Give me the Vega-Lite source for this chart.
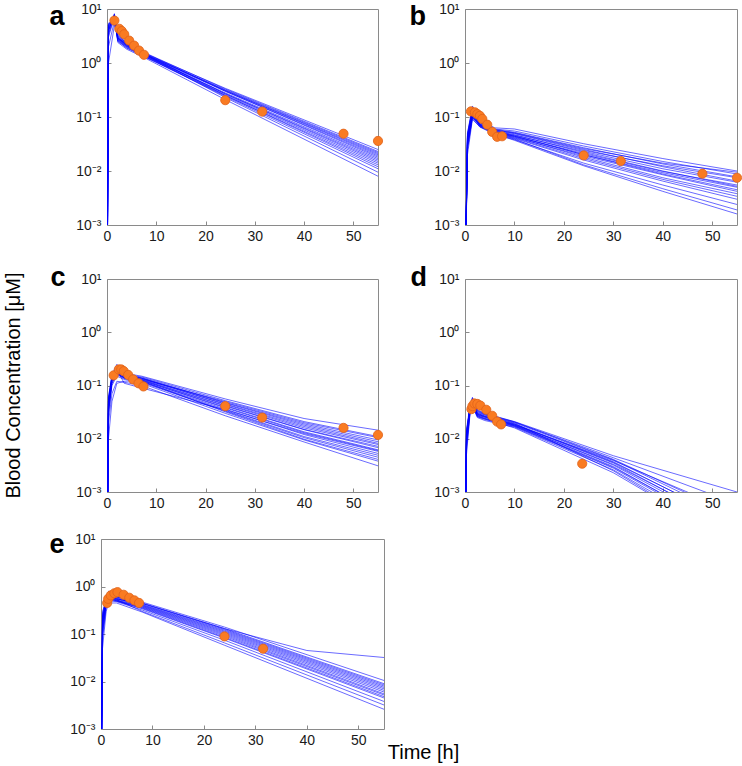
{
"$schema":"https://vega.github.io/schema/vega-lite/v6.json",
"padding":{"left":3,"top":1,"right":0,"bottom":0},
"config":{
 "view":{"stroke":"#8a8a8a","strokeWidth":1},
 "axis":{"labelFont":"Liberation Sans","labelFontSize":14,"labelColor":"#1a1a1a","grid":false,"domain":false,"ticks":true,"tickColor":"#8a8a8a","tickSize":-4,"tickWidth":1},
 "axisY":{"titleFont":"Liberation Sans","titleFontSize":27,"titleFontWeight":"bold","titleColor":"#000000","titleAngle":0,"titleAlign":"left","titleBaseline":"alphabetic","titleY":15,"labelPadding":10},
 "axisX":{"titleFont":"Liberation Sans","titleFontSize":20,"titleFontWeight":"normal","titleColor":"#000000","labelPadding":8,"labelAngle":0,"labelFlush":false}
},
"datasets":{
"sim":[
{"p":"a","s":1,"t":0.05,"c":0.0001},{"p":"a","s":1,"t":0.3,"c":4},{"p":"a","s":1,"t":1.5,"c":8},{"p":"a","s":1,"t":2.2,"c":3.2},{"p":"a","s":1,"t":4,"c":2.3},{"p":"a","s":1,"t":8,"c":1.45},{"p":"a","s":1,"t":24,"c":0.34},{"p":"a","s":1,"t":55,"c":0.025},
{"p":"a","s":2,"t":0.05,"c":0.0001},{"p":"a","s":2,"t":0.3,"c":5},{"p":"a","s":2,"t":1.5,"c":7.5},{"p":"a","s":2,"t":2.2,"c":3.0},{"p":"a","s":2,"t":4,"c":2.2},{"p":"a","s":2,"t":8,"c":1.40},{"p":"a","s":2,"t":24,"c":0.32},{"p":"a","s":2,"t":55,"c":0.022},
{"p":"a","s":3,"t":0.05,"c":0.0001},{"p":"a","s":3,"t":0.3,"c":3},{"p":"a","s":3,"t":1.5,"c":7},{"p":"a","s":3,"t":2.2,"c":2.8},{"p":"a","s":3,"t":4,"c":2.1},{"p":"a","s":3,"t":8,"c":1.35},{"p":"a","s":3,"t":24,"c":0.30},{"p":"a","s":3,"t":55,"c":0.019},
{"p":"a","s":4,"t":0.05,"c":0.0001},{"p":"a","s":4,"t":0.3,"c":5},{"p":"a","s":4,"t":1.5,"c":6.5},{"p":"a","s":4,"t":2.2,"c":2.7},{"p":"a","s":4,"t":4,"c":2.0},{"p":"a","s":4,"t":8,"c":1.30},{"p":"a","s":4,"t":24,"c":0.28},{"p":"a","s":4,"t":55,"c":0.017},
{"p":"a","s":5,"t":0.05,"c":0.0001},{"p":"a","s":5,"t":0.3,"c":4.5},{"p":"a","s":5,"t":1.5,"c":6.8},{"p":"a","s":5,"t":2.2,"c":2.9},{"p":"a","s":5,"t":4,"c":2.2},{"p":"a","s":5,"t":8,"c":1.38},{"p":"a","s":5,"t":24,"c":0.27},{"p":"a","s":5,"t":55,"c":0.015},
{"p":"a","s":6,"t":0.05,"c":0.0001},{"p":"a","s":6,"t":0.3,"c":3.5},{"p":"a","s":6,"t":1.5,"c":7.2},{"p":"a","s":6,"t":2.2,"c":2.6},{"p":"a","s":6,"t":4,"c":1.9},{"p":"a","s":6,"t":8,"c":1.25},{"p":"a","s":6,"t":24,"c":0.25},{"p":"a","s":6,"t":55,"c":0.013},
{"p":"a","s":7,"t":0.05,"c":0.0001},{"p":"a","s":7,"t":0.3,"c":5.5},{"p":"a","s":7,"t":1.5,"c":6},{"p":"a","s":7,"t":2.2,"c":2.5},{"p":"a","s":7,"t":4,"c":1.9},{"p":"a","s":7,"t":8,"c":1.28},{"p":"a","s":7,"t":24,"c":0.24},{"p":"a","s":7,"t":55,"c":0.011},
{"p":"a","s":8,"t":0.05,"c":0.0001},{"p":"a","s":8,"t":0.3,"c":4},{"p":"a","s":8,"t":1.5,"c":7.8},{"p":"a","s":8,"t":2.2,"c":3.1},{"p":"a","s":8,"t":4,"c":2.25},{"p":"a","s":8,"t":8,"c":1.42},{"p":"a","s":8,"t":24,"c":0.31},{"p":"a","s":8,"t":55,"c":0.020},
{"p":"a","s":9,"t":0.05,"c":0.0001},{"p":"a","s":9,"t":0.3,"c":2},{"p":"a","s":9,"t":1.5,"c":6},{"p":"a","s":9,"t":2.2,"c":3.3},{"p":"a","s":9,"t":4,"c":2.3},{"p":"a","s":9,"t":8,"c":1.5},{"p":"a","s":9,"t":24,"c":0.33},{"p":"a","s":9,"t":55,"c":0.023},
{"p":"a","s":10,"t":0.05,"c":0.0001},{"p":"a","s":10,"t":0.3,"c":4.8},{"p":"a","s":10,"t":1.5,"c":7},{"p":"a","s":10,"t":2.2,"c":2.4},{"p":"a","s":10,"t":4,"c":1.8},{"p":"a","s":10,"t":8,"c":1.2},{"p":"a","s":10,"t":24,"c":0.21},{"p":"a","s":10,"t":55,"c":0.008},
{"p":"a","s":11,"t":0.05,"c":0.0001},{"p":"a","s":11,"t":0.3,"c":3.8},{"p":"a","s":11,"t":1.5,"c":8.2},{"p":"a","s":11,"t":2.2,"c":2.9},{"p":"a","s":11,"t":4,"c":2.1},{"p":"a","s":11,"t":8,"c":1.33},{"p":"a","s":11,"t":24,"c":0.27},{"p":"a","s":11,"t":55,"c":0.016},
{"p":"a","s":12,"t":0.05,"c":0.0001},{"p":"a","s":12,"t":0.3,"c":5.2},{"p":"a","s":12,"t":1.5,"c":6.6},{"p":"a","s":12,"t":2.2,"c":2.6},{"p":"a","s":12,"t":4,"c":2.0},{"p":"a","s":12,"t":8,"c":1.27},{"p":"a","s":12,"t":24,"c":0.26},{"p":"a","s":12,"t":55,"c":0.014},
{"p":"a","s":13,"t":0.05,"c":0.0001},{"p":"a","s":13,"t":0.3,"c":1.0},{"p":"a","s":13,"t":1.5,"c":5},{"p":"a","s":13,"t":2.2,"c":3.5},{"p":"a","s":13,"t":4,"c":2.4},{"p":"a","s":13,"t":8,"c":1.48},{"p":"a","s":13,"t":24,"c":0.30},{"p":"a","s":13,"t":55,"c":0.018},
{"p":"a","s":14,"t":0.05,"c":0.0001},{"p":"a","s":14,"t":0.3,"c":4.2},{"p":"a","s":14,"t":1.5,"c":7.4},{"p":"a","s":14,"t":2.2,"c":2.75},{"p":"a","s":14,"t":4,"c":2.05},{"p":"a","s":14,"t":8,"c":1.36},{"p":"a","s":14,"t":24,"c":0.23},{"p":"a","s":14,"t":55,"c":0.0095},
{"p":"a","s":15,"t":0.05,"c":0.0001},{"p":"a","s":15,"t":0.3,"c":4.6},{"p":"a","s":15,"t":1.5,"c":6.9},{"p":"a","s":15,"t":2.2,"c":2.85},{"p":"a","s":15,"t":4,"c":2.15},{"p":"a","s":15,"t":8,"c":1.39},{"p":"a","s":15,"t":24,"c":0.31},{"p":"a","s":15,"t":55,"c":0.021},
{"p":"a","s":16,"t":0.05,"c":0.0001},{"p":"a","s":16,"t":0.3,"c":3.3},{"p":"a","s":16,"t":1.5,"c":7.7},{"p":"a","s":16,"t":2.2,"c":2.95},{"p":"a","s":16,"t":4,"c":2.2},{"p":"a","s":16,"t":8,"c":1.41},{"p":"a","s":16,"t":24,"c":0.25},{"p":"a","s":16,"t":55,"c":0.012},

{"p":"b","s":1,"t":0.05,"c":0.0001},{"p":"b","s":1,"t":0.5,"c":0.05},{"p":"b","s":1,"t":1.5,"c":0.16},{"p":"b","s":1,"t":3,"c":0.09},{"p":"b","s":1,"t":6,"c":0.063},{"p":"b","s":1,"t":10,"c":0.060},{"p":"b","s":1,"t":24,"c":0.032},{"p":"b","s":1,"t":40,"c":0.017},{"p":"b","s":1,"t":55,"c":0.010},
{"p":"b","s":2,"t":0.05,"c":0.0001},{"p":"b","s":2,"t":0.5,"c":0.04},{"p":"b","s":2,"t":1.5,"c":0.14},{"p":"b","s":2,"t":3,"c":0.085},{"p":"b","s":2,"t":6,"c":0.060},{"p":"b","s":2,"t":10,"c":0.055},{"p":"b","s":2,"t":24,"c":0.029},{"p":"b","s":2,"t":40,"c":0.015},{"p":"b","s":2,"t":55,"c":0.0088},
{"p":"b","s":3,"t":0.05,"c":0.0001},{"p":"b","s":3,"t":0.5,"c":0.03},{"p":"b","s":3,"t":1.5,"c":0.12},{"p":"b","s":3,"t":3,"c":0.08},{"p":"b","s":3,"t":6,"c":0.058},{"p":"b","s":3,"t":10,"c":0.050},{"p":"b","s":3,"t":24,"c":0.025},{"p":"b","s":3,"t":40,"c":0.012},{"p":"b","s":3,"t":55,"c":0.0065},
{"p":"b","s":4,"t":0.05,"c":0.0001},{"p":"b","s":4,"t":0.5,"c":0.045},{"p":"b","s":4,"t":1.5,"c":0.13},{"p":"b","s":4,"t":3,"c":0.075},{"p":"b","s":4,"t":6,"c":0.055},{"p":"b","s":4,"t":10,"c":0.047},{"p":"b","s":4,"t":24,"c":0.022},{"p":"b","s":4,"t":40,"c":0.010},{"p":"b","s":4,"t":55,"c":0.0052},
{"p":"b","s":5,"t":0.05,"c":0.0001},{"p":"b","s":5,"t":0.5,"c":0.035},{"p":"b","s":5,"t":1.5,"c":0.11},{"p":"b","s":5,"t":3,"c":0.072},{"p":"b","s":5,"t":6,"c":0.054},{"p":"b","s":5,"t":10,"c":0.045},{"p":"b","s":5,"t":24,"c":0.020},{"p":"b","s":5,"t":40,"c":0.0088},{"p":"b","s":5,"t":55,"c":0.0045},
{"p":"b","s":6,"t":0.05,"c":0.0001},{"p":"b","s":6,"t":0.5,"c":0.025},{"p":"b","s":6,"t":1.5,"c":0.10},{"p":"b","s":6,"t":3,"c":0.07},{"p":"b","s":6,"t":6,"c":0.052},{"p":"b","s":6,"t":10,"c":0.043},{"p":"b","s":6,"t":24,"c":0.018},{"p":"b","s":6,"t":40,"c":0.0075},{"p":"b","s":6,"t":55,"c":0.0038},
{"p":"b","s":7,"t":0.05,"c":0.0001},{"p":"b","s":7,"t":0.5,"c":0.04},{"p":"b","s":7,"t":1.5,"c":0.12},{"p":"b","s":7,"t":3,"c":0.068},{"p":"b","s":7,"t":6,"c":0.050},{"p":"b","s":7,"t":10,"c":0.040},{"p":"b","s":7,"t":24,"c":0.016},{"p":"b","s":7,"t":40,"c":0.0065},{"p":"b","s":7,"t":55,"c":0.0030},
{"p":"b","s":8,"t":0.05,"c":0.0001},{"p":"b","s":8,"t":0.5,"c":0.03},{"p":"b","s":8,"t":1.5,"c":0.095},{"p":"b","s":8,"t":3,"c":0.065},{"p":"b","s":8,"t":6,"c":0.048},{"p":"b","s":8,"t":10,"c":0.038},{"p":"b","s":8,"t":24,"c":0.014},{"p":"b","s":8,"t":40,"c":0.0055},{"p":"b","s":8,"t":55,"c":0.0024},
{"p":"b","s":9,"t":0.05,"c":0.0001},{"p":"b","s":9,"t":0.5,"c":0.02},{"p":"b","s":9,"t":1.5,"c":0.09},{"p":"b","s":9,"t":3,"c":0.066},{"p":"b","s":9,"t":6,"c":0.050},{"p":"b","s":9,"t":10,"c":0.039},{"p":"b","s":9,"t":24,"c":0.013},{"p":"b","s":9,"t":40,"c":0.0047},{"p":"b","s":9,"t":55,"c":0.0019},
{"p":"b","s":10,"t":0.05,"c":0.0001},{"p":"b","s":10,"t":0.5,"c":0.045},{"p":"b","s":10,"t":1.5,"c":0.15},{"p":"b","s":10,"t":3,"c":0.078},{"p":"b","s":10,"t":6,"c":0.056},{"p":"b","s":10,"t":10,"c":0.049},{"p":"b","s":10,"t":24,"c":0.024},{"p":"b","s":10,"t":40,"c":0.0125},{"p":"b","s":10,"t":55,"c":0.0075},
{"p":"b","s":11,"t":0.05,"c":0.0001},{"p":"b","s":11,"t":0.5,"c":0.035},{"p":"b","s":11,"t":1.5,"c":0.125},{"p":"b","s":11,"t":3,"c":0.074},{"p":"b","s":11,"t":6,"c":0.053},{"p":"b","s":11,"t":10,"c":0.044},{"p":"b","s":11,"t":24,"c":0.021},{"p":"b","s":11,"t":40,"c":0.0098},{"p":"b","s":11,"t":55,"c":0.0055},
{"p":"b","s":12,"t":0.05,"c":0.0001},{"p":"b","s":12,"t":0.5,"c":0.03},{"p":"b","s":12,"t":1.5,"c":0.105},{"p":"b","s":12,"t":3,"c":0.07},{"p":"b","s":12,"t":6,"c":0.051},{"p":"b","s":12,"t":10,"c":0.042},{"p":"b","s":12,"t":24,"c":0.019},{"p":"b","s":12,"t":40,"c":0.0085},{"p":"b","s":12,"t":55,"c":0.0042},
{"p":"b","s":13,"t":0.05,"c":0.0001},{"p":"b","s":13,"t":0.5,"c":0.05},{"p":"b","s":13,"t":1.5,"c":0.14},{"p":"b","s":13,"t":3,"c":0.082},{"p":"b","s":13,"t":6,"c":0.059},{"p":"b","s":13,"t":10,"c":0.052},{"p":"b","s":13,"t":24,"c":0.027},{"p":"b","s":13,"t":40,"c":0.0135},{"p":"b","s":13,"t":55,"c":0.0078},
{"p":"b","s":14,"t":0.05,"c":0.0001},{"p":"b","s":14,"t":0.5,"c":0.025},{"p":"b","s":14,"t":1.5,"c":0.10},{"p":"b","s":14,"t":3,"c":0.067},{"p":"b","s":14,"t":6,"c":0.049},{"p":"b","s":14,"t":10,"c":0.037},{"p":"b","s":14,"t":24,"c":0.0125},{"p":"b","s":14,"t":40,"c":0.0042},{"p":"b","s":14,"t":55,"c":0.0016},
{"p":"b","s":15,"t":0.05,"c":0.0001},{"p":"b","s":15,"t":0.5,"c":0.04},{"p":"b","s":15,"t":1.5,"c":0.115},{"p":"b","s":15,"t":3,"c":0.073},{"p":"b","s":15,"t":6,"c":0.054},{"p":"b","s":15,"t":10,"c":0.046},{"p":"b","s":15,"t":24,"c":0.023},{"p":"b","s":15,"t":40,"c":0.011},{"p":"b","s":15,"t":55,"c":0.0062},
{"p":"b","s":16,"t":0.05,"c":0.0001},{"p":"b","s":16,"t":0.5,"c":0.03},{"p":"b","s":16,"t":1.5,"c":0.11},{"p":"b","s":16,"t":3,"c":0.069},{"p":"b","s":16,"t":6,"c":0.052},{"p":"b","s":16,"t":10,"c":0.041},{"p":"b","s":16,"t":24,"c":0.017},{"p":"b","s":16,"t":40,"c":0.007},{"p":"b","s":16,"t":55,"c":0.0034},
{"p":"b","s":17,"t":0.05,"c":0.0001},{"p":"b","s":17,"t":0.5,"c":0.045},{"p":"b","s":17,"t":1.5,"c":0.135},{"p":"b","s":17,"t":3,"c":0.08},{"p":"b","s":17,"t":6,"c":0.057},{"p":"b","s":17,"t":10,"c":0.051},{"p":"b","s":17,"t":24,"c":0.026},{"p":"b","s":17,"t":40,"c":0.014},{"p":"b","s":17,"t":55,"c":0.0095},
{"p":"b","s":18,"t":0.05,"c":0.0001},{"p":"b","s":18,"t":0.5,"c":0.035},{"p":"b","s":18,"t":1.5,"c":0.10},{"p":"b","s":18,"t":3,"c":0.071},{"p":"b","s":18,"t":6,"c":0.053},{"p":"b","s":18,"t":10,"c":0.044},{"p":"b","s":18,"t":24,"c":0.02},{"p":"b","s":18,"t":40,"c":0.0093},{"p":"b","s":18,"t":55,"c":0.005},

{"p":"c","s":1,"t":0.05,"c":0.0001},{"p":"c","s":1,"t":0.3,"c":0.06},{"p":"c","s":1,"t":1,"c":0.16},{"p":"c","s":1,"t":2,"c":0.25},{"p":"c","s":1,"t":3.5,"c":0.17},{"p":"c","s":1,"t":7,"c":0.15},{"p":"c","s":1,"t":24,"c":0.056},{"p":"c","s":1,"t":40,"c":0.024},{"p":"c","s":1,"t":55,"c":0.0145},
{"p":"c","s":2,"t":0.05,"c":0.0001},{"p":"c","s":2,"t":0.3,"c":0.05},{"p":"c","s":2,"t":1,"c":0.15},{"p":"c","s":2,"t":2,"c":0.22},{"p":"c","s":2,"t":3.5,"c":0.16},{"p":"c","s":2,"t":7,"c":0.145},{"p":"c","s":2,"t":24,"c":0.052},{"p":"c","s":2,"t":40,"c":0.021},{"p":"c","s":2,"t":55,"c":0.011},
{"p":"c","s":3,"t":0.05,"c":0.0001},{"p":"c","s":3,"t":0.3,"c":0.04},{"p":"c","s":3,"t":1,"c":0.13},{"p":"c","s":3,"t":2,"c":0.20},{"p":"c","s":3,"t":3.5,"c":0.155},{"p":"c","s":3,"t":7,"c":0.14},{"p":"c","s":3,"t":24,"c":0.048},{"p":"c","s":3,"t":40,"c":0.019},{"p":"c","s":3,"t":55,"c":0.0095},
{"p":"c","s":4,"t":0.05,"c":0.0001},{"p":"c","s":4,"t":0.3,"c":0.05},{"p":"c","s":4,"t":1,"c":0.14},{"p":"c","s":4,"t":2,"c":0.19},{"p":"c","s":4,"t":3.5,"c":0.15},{"p":"c","s":4,"t":7,"c":0.135},{"p":"c","s":4,"t":24,"c":0.045},{"p":"c","s":4,"t":40,"c":0.017},{"p":"c","s":4,"t":55,"c":0.0082},
{"p":"c","s":5,"t":0.05,"c":0.0001},{"p":"c","s":5,"t":0.3,"c":0.03},{"p":"c","s":5,"t":1,"c":0.12},{"p":"c","s":5,"t":2,"c":0.18},{"p":"c","s":5,"t":3.5,"c":0.145},{"p":"c","s":5,"t":7,"c":0.13},{"p":"c","s":5,"t":24,"c":0.042},{"p":"c","s":5,"t":40,"c":0.015},{"p":"c","s":5,"t":55,"c":0.0072},
{"p":"c","s":6,"t":0.05,"c":0.0001},{"p":"c","s":6,"t":0.3,"c":0.06},{"p":"c","s":6,"t":1,"c":0.15},{"p":"c","s":6,"t":2,"c":0.17},{"p":"c","s":6,"t":3.5,"c":0.14},{"p":"c","s":6,"t":7,"c":0.125},{"p":"c","s":6,"t":24,"c":0.039},{"p":"c","s":6,"t":40,"c":0.0135},{"p":"c","s":6,"t":55,"c":0.0062},
{"p":"c","s":7,"t":0.05,"c":0.0001},{"p":"c","s":7,"t":0.3,"c":0.04},{"p":"c","s":7,"t":1,"c":0.11},{"p":"c","s":7,"t":2,"c":0.16},{"p":"c","s":7,"t":3.5,"c":0.135},{"p":"c","s":7,"t":7,"c":0.12},{"p":"c","s":7,"t":24,"c":0.036},{"p":"c","s":7,"t":40,"c":0.012},{"p":"c","s":7,"t":55,"c":0.0053},
{"p":"c","s":8,"t":0.05,"c":0.0001},{"p":"c","s":8,"t":0.3,"c":0.03},{"p":"c","s":8,"t":1,"c":0.10},{"p":"c","s":8,"t":2,"c":0.15},{"p":"c","s":8,"t":3.5,"c":0.13},{"p":"c","s":8,"t":7,"c":0.115},{"p":"c","s":8,"t":24,"c":0.033},{"p":"c","s":8,"t":40,"c":0.0105},{"p":"c","s":8,"t":55,"c":0.0045},
{"p":"c","s":9,"t":0.05,"c":0.0001},{"p":"c","s":9,"t":0.3,"c":0.05},{"p":"c","s":9,"t":1,"c":0.13},{"p":"c","s":9,"t":2,"c":0.21},{"p":"c","s":9,"t":3.5,"c":0.15},{"p":"c","s":9,"t":7,"c":0.11},{"p":"c","s":9,"t":24,"c":0.030},{"p":"c","s":9,"t":40,"c":0.0095},{"p":"c","s":9,"t":55,"c":0.0038},
{"p":"c","s":10,"t":0.05,"c":0.0001},{"p":"c","s":10,"t":0.3,"c":0.02},{"p":"c","s":10,"t":1,"c":0.07},{"p":"c","s":10,"t":2,"c":0.12},{"p":"c","s":10,"t":3.5,"c":0.115},{"p":"c","s":10,"t":7,"c":0.10},{"p":"c","s":10,"t":24,"c":0.027},{"p":"c","s":10,"t":40,"c":0.0087},{"p":"c","s":10,"t":55,"c":0.0031},
{"p":"c","s":11,"t":0.05,"c":0.0001},{"p":"c","s":11,"t":0.3,"c":0.045},{"p":"c","s":11,"t":1,"c":0.145},{"p":"c","s":11,"t":2,"c":0.23},{"p":"c","s":11,"t":3.5,"c":0.16},{"p":"c","s":11,"t":7,"c":0.138},{"p":"c","s":11,"t":24,"c":0.047},{"p":"c","s":11,"t":40,"c":0.018},{"p":"c","s":11,"t":55,"c":0.0088},
{"p":"c","s":12,"t":0.05,"c":0.0001},{"p":"c","s":12,"t":0.3,"c":0.035},{"p":"c","s":12,"t":1,"c":0.12},{"p":"c","s":12,"t":2,"c":0.175},{"p":"c","s":12,"t":3.5,"c":0.14},{"p":"c","s":12,"t":7,"c":0.128},{"p":"c","s":12,"t":24,"c":0.041},{"p":"c","s":12,"t":40,"c":0.0148},{"p":"c","s":12,"t":55,"c":0.0068},
{"p":"c","s":13,"t":0.05,"c":0.0001},{"p":"c","s":13,"t":0.3,"c":0.055},{"p":"c","s":13,"t":1,"c":0.14},{"p":"c","s":13,"t":2,"c":0.2},{"p":"c","s":13,"t":3.5,"c":0.11},{"p":"c","s":13,"t":7,"c":0.09},{"p":"c","s":13,"t":24,"c":0.035},{"p":"c","s":13,"t":40,"c":0.0125},{"p":"c","s":13,"t":55,"c":0.0058},
{"p":"c","s":14,"t":0.05,"c":0.0001},{"p":"c","s":14,"t":0.3,"c":0.04},{"p":"c","s":14,"t":1,"c":0.125},{"p":"c","s":14,"t":2,"c":0.185},{"p":"c","s":14,"t":3.5,"c":0.148},{"p":"c","s":14,"t":7,"c":0.132},{"p":"c","s":14,"t":24,"c":0.05},{"p":"c","s":14,"t":40,"c":0.02},{"p":"c","s":14,"t":55,"c":0.0105},
{"p":"c","s":15,"t":0.05,"c":0.0001},{"p":"c","s":15,"t":0.3,"c":0.03},{"p":"c","s":15,"t":1,"c":0.11},{"p":"c","s":15,"t":2,"c":0.165},{"p":"c","s":15,"t":3.5,"c":0.138},{"p":"c","s":15,"t":7,"c":0.118},{"p":"c","s":15,"t":24,"c":0.034},{"p":"c","s":15,"t":40,"c":0.011},{"p":"c","s":15,"t":55,"c":0.0049},
{"p":"c","s":16,"t":0.05,"c":0.0001},{"p":"c","s":16,"t":0.3,"c":0.05},{"p":"c","s":16,"t":1,"c":0.135},{"p":"c","s":16,"t":2,"c":0.195},{"p":"c","s":16,"t":3.5,"c":0.152},{"p":"c","s":16,"t":7,"c":0.137},{"p":"c","s":16,"t":24,"c":0.044},{"p":"c","s":16,"t":40,"c":0.016},{"p":"c","s":16,"t":55,"c":0.0078},
{"p":"c","s":17,"t":0.05,"c":0.0001},{"p":"c","s":17,"t":0.3,"c":0.01},{"p":"c","s":17,"t":1,"c":0.05},{"p":"c","s":17,"t":2,"c":0.11},{"p":"c","s":17,"t":3.5,"c":0.12},{"p":"c","s":17,"t":7,"c":0.125},{"p":"c","s":17,"t":24,"c":0.038},{"p":"c","s":17,"t":40,"c":0.013},{"p":"c","s":17,"t":55,"c":0.006},
{"p":"c","s":18,"t":0.05,"c":0.0001},{"p":"c","s":18,"t":0.3,"c":0.045},{"p":"c","s":18,"t":1,"c":0.13},{"p":"c","s":18,"t":2,"c":0.17},{"p":"c","s":18,"t":3.5,"c":0.14},{"p":"c","s":18,"t":7,"c":0.122},{"p":"c","s":18,"t":24,"c":0.032},{"p":"c","s":18,"t":40,"c":0.0098},{"p":"c","s":18,"t":55,"c":0.0041},

{"p":"d","s":1,"t":0.05,"c":0.0001},{"p":"d","s":1,"t":0.3,"c":0.012},{"p":"d","s":1,"t":1,"c":0.04},{"p":"d","s":1,"t":1.5,"c":0.06},{"p":"d","s":1,"t":2.5,"c":0.035},{"p":"d","s":1,"t":4,"c":0.03},{"p":"d","s":1,"t":10,"c":0.021},{"p":"d","s":1,"t":30,"c":0.0048},{"p":"d","s":1,"t":55,"c":0.001},
{"p":"d","s":2,"t":0.05,"c":0.0001},{"p":"d","s":2,"t":0.3,"c":0.01},{"p":"d","s":2,"t":1,"c":0.038},{"p":"d","s":2,"t":1.5,"c":0.055},{"p":"d","s":2,"t":2.5,"c":0.033},{"p":"d","s":2,"t":4,"c":0.029},{"p":"d","s":2,"t":10,"c":0.0205},{"p":"d","s":2,"t":30,"c":0.0044},{"p":"d","s":2,"t":55,"c":0.0006},
{"p":"d","s":3,"t":0.05,"c":0.0001},{"p":"d","s":3,"t":0.3,"c":0.015},{"p":"d","s":3,"t":1,"c":0.042},{"p":"d","s":3,"t":1.5,"c":0.05},{"p":"d","s":3,"t":2.5,"c":0.031},{"p":"d","s":3,"t":4,"c":0.028},{"p":"d","s":3,"t":10,"c":0.02},{"p":"d","s":3,"t":30,"c":0.004},{"p":"d","s":3,"t":55,"c":0.0003},
{"p":"d","s":4,"t":0.05,"c":0.0001},{"p":"d","s":4,"t":0.3,"c":0.008},{"p":"d","s":4,"t":1,"c":0.035},{"p":"d","s":4,"t":1.5,"c":0.048},{"p":"d","s":4,"t":2.5,"c":0.030},{"p":"d","s":4,"t":4,"c":0.027},{"p":"d","s":4,"t":10,"c":0.019},{"p":"d","s":4,"t":30,"c":0.0037},{"p":"d","s":4,"t":55,"c":0.00025},
{"p":"d","s":5,"t":0.05,"c":0.0001},{"p":"d","s":5,"t":0.3,"c":0.012},{"p":"d","s":5,"t":1,"c":0.04},{"p":"d","s":5,"t":1.5,"c":0.045},{"p":"d","s":5,"t":2.5,"c":0.029},{"p":"d","s":5,"t":4,"c":0.026},{"p":"d","s":5,"t":10,"c":0.0185},{"p":"d","s":5,"t":30,"c":0.0035},{"p":"d","s":5,"t":55,"c":0.0002},
{"p":"d","s":6,"t":0.05,"c":0.0001},{"p":"d","s":6,"t":0.3,"c":0.006},{"p":"d","s":6,"t":1,"c":0.03},{"p":"d","s":6,"t":1.5,"c":0.052},{"p":"d","s":6,"t":2.5,"c":0.028},{"p":"d","s":6,"t":4,"c":0.025},{"p":"d","s":6,"t":10,"c":0.018},{"p":"d","s":6,"t":30,"c":0.0032},{"p":"d","s":6,"t":55,"c":0.00018},
{"p":"d","s":7,"t":0.05,"c":0.0001},{"p":"d","s":7,"t":0.3,"c":0.014},{"p":"d","s":7,"t":1,"c":0.036},{"p":"d","s":7,"t":1.5,"c":0.042},{"p":"d","s":7,"t":2.5,"c":0.027},{"p":"d","s":7,"t":4,"c":0.024},{"p":"d","s":7,"t":10,"c":0.0175},{"p":"d","s":7,"t":30,"c":0.003},{"p":"d","s":7,"t":55,"c":0.00015},
{"p":"d","s":8,"t":0.05,"c":0.0001},{"p":"d","s":8,"t":0.3,"c":0.01},{"p":"d","s":8,"t":1,"c":0.033},{"p":"d","s":8,"t":1.5,"c":0.047},{"p":"d","s":8,"t":2.5,"c":0.026},{"p":"d","s":8,"t":4,"c":0.023},{"p":"d","s":8,"t":10,"c":0.017},{"p":"d","s":8,"t":30,"c":0.0028},{"p":"d","s":8,"t":55,"c":0.00014},
{"p":"d","s":9,"t":0.05,"c":0.0001},{"p":"d","s":9,"t":0.3,"c":0.005},{"p":"d","s":9,"t":1,"c":0.028},{"p":"d","s":9,"t":1.5,"c":0.04},{"p":"d","s":9,"t":2.5,"c":0.025},{"p":"d","s":9,"t":4,"c":0.022},{"p":"d","s":9,"t":10,"c":0.0165},{"p":"d","s":9,"t":30,"c":0.0026},{"p":"d","s":9,"t":55,"c":0.00012},
{"p":"d","s":10,"t":0.05,"c":0.0001},{"p":"d","s":10,"t":0.3,"c":0.011},{"p":"d","s":10,"t":1,"c":0.037},{"p":"d","s":10,"t":1.5,"c":0.058},{"p":"d","s":10,"t":2.5,"c":0.034},{"p":"d","s":10,"t":4,"c":0.0295},{"p":"d","s":10,"t":10,"c":0.0208},{"p":"d","s":10,"t":30,"c":0.0041},{"p":"d","s":10,"t":55,"c":0.00035},
{"p":"d","s":11,"t":0.05,"c":0.0001},{"p":"d","s":11,"t":0.3,"c":0.009},{"p":"d","s":11,"t":1,"c":0.034},{"p":"d","s":11,"t":1.5,"c":0.044},{"p":"d","s":11,"t":2.5,"c":0.028},{"p":"d","s":11,"t":4,"c":0.0255},{"p":"d","s":11,"t":10,"c":0.0178},{"p":"d","s":11,"t":30,"c":0.0033},{"p":"d","s":11,"t":55,"c":0.00022},
{"p":"d","s":12,"t":0.05,"c":0.0001},{"p":"d","s":12,"t":0.3,"c":0.013},{"p":"d","s":12,"t":1,"c":0.039},{"p":"d","s":12,"t":1.5,"c":0.05},{"p":"d","s":12,"t":2.5,"c":0.03},{"p":"d","s":12,"t":4,"c":0.0265},{"p":"d","s":12,"t":10,"c":0.0188},{"p":"d","s":12,"t":30,"c":0.0036},{"p":"d","s":12,"t":55,"c":0.00026},
{"p":"d","s":13,"t":0.05,"c":0.0001},{"p":"d","s":13,"t":0.3,"c":0.007},{"p":"d","s":13,"t":1,"c":0.032},{"p":"d","s":13,"t":1.5,"c":0.046},{"p":"d","s":13,"t":2.5,"c":0.027},{"p":"d","s":13,"t":4,"c":0.024},{"p":"d","s":13,"t":10,"c":0.0172},{"p":"d","s":13,"t":30,"c":0.0029},{"p":"d","s":13,"t":55,"c":0.00016},
{"p":"d","s":14,"t":0.05,"c":0.0001},{"p":"d","s":14,"t":0.3,"c":0.012},{"p":"d","s":14,"t":1,"c":0.041},{"p":"d","s":14,"t":1.5,"c":0.053},{"p":"d","s":14,"t":2.5,"c":0.032},{"p":"d","s":14,"t":4,"c":0.0285},{"p":"d","s":14,"t":10,"c":0.0195},{"p":"d","s":14,"t":30,"c":0.0025},{"p":"d","s":14,"t":55,"c":0.0001},
{"p":"d","s":15,"t":0.05,"c":0.0001},{"p":"d","s":15,"t":0.3,"c":0.008},{"p":"d","s":15,"t":1,"c":0.03},{"p":"d","s":15,"t":1.5,"c":0.043},{"p":"d","s":15,"t":2.5,"c":0.026},{"p":"d","s":15,"t":4,"c":0.0235},{"p":"d","s":15,"t":10,"c":0.016},{"p":"d","s":15,"t":30,"c":0.0023},{"p":"d","s":15,"t":55,"c":0.0001},
{"p":"d","s":16,"t":0.05,"c":0.0001},{"p":"d","s":16,"t":0.3,"c":0.01},{"p":"d","s":16,"t":1,"c":0.036},{"p":"d","s":16,"t":1.5,"c":0.049},{"p":"d","s":16,"t":2.5,"c":0.029},{"p":"d","s":16,"t":4,"c":0.026},{"p":"d","s":16,"t":10,"c":0.0182},{"p":"d","s":16,"t":30,"c":0.0039},{"p":"d","s":16,"t":55,"c":0.0004},

{"p":"e","s":1,"t":0.05,"c":0.0001},{"p":"e","s":1,"t":0.3,"c":0.2},{"p":"e","s":1,"t":1,"c":0.6},{"p":"e","s":1,"t":1.5,"c":0.8},{"p":"e","s":1,"t":3,"c":0.62},{"p":"e","s":1,"t":8,"c":0.47},{"p":"e","s":1,"t":24,"c":0.14},{"p":"e","s":1,"t":55,"c":0.0105},
{"p":"e","s":2,"t":0.05,"c":0.0001},{"p":"e","s":2,"t":0.3,"c":0.15},{"p":"e","s":2,"t":1,"c":0.55},{"p":"e","s":2,"t":1.5,"c":0.7},{"p":"e","s":2,"t":3,"c":0.6},{"p":"e","s":2,"t":8,"c":0.45},{"p":"e","s":2,"t":24,"c":0.13},{"p":"e","s":2,"t":55,"c":0.009},
{"p":"e","s":3,"t":0.05,"c":0.0001},{"p":"e","s":3,"t":0.3,"c":0.3},{"p":"e","s":3,"t":1,"c":0.5},{"p":"e","s":3,"t":1.5,"c":0.6},{"p":"e","s":3,"t":3,"c":0.55},{"p":"e","s":3,"t":8,"c":0.42},{"p":"e","s":3,"t":24,"c":0.12},{"p":"e","s":3,"t":55,"c":0.008},
{"p":"e","s":4,"t":0.05,"c":0.0001},{"p":"e","s":4,"t":0.3,"c":0.1},{"p":"e","s":4,"t":1,"c":0.45},{"p":"e","s":4,"t":1.5,"c":0.65},{"p":"e","s":4,"t":3,"c":0.58},{"p":"e","s":4,"t":8,"c":0.4},{"p":"e","s":4,"t":24,"c":0.11},{"p":"e","s":4,"t":55,"c":0.007},
{"p":"e","s":5,"t":0.05,"c":0.0001},{"p":"e","s":5,"t":0.3,"c":0.25},{"p":"e","s":5,"t":1,"c":0.55},{"p":"e","s":5,"t":1.5,"c":0.6},{"p":"e","s":5,"t":3,"c":0.52},{"p":"e","s":5,"t":8,"c":0.38},{"p":"e","s":5,"t":24,"c":0.1},{"p":"e","s":5,"t":55,"c":0.006},
{"p":"e","s":6,"t":0.05,"c":0.0001},{"p":"e","s":6,"t":0.3,"c":0.12},{"p":"e","s":6,"t":1,"c":0.4},{"p":"e","s":6,"t":1.5,"c":0.55},{"p":"e","s":6,"t":3,"c":0.5},{"p":"e","s":6,"t":8,"c":0.36},{"p":"e","s":6,"t":24,"c":0.09},{"p":"e","s":6,"t":55,"c":0.0052},
{"p":"e","s":7,"t":0.05,"c":0.0001},{"p":"e","s":7,"t":0.3,"c":0.2},{"p":"e","s":7,"t":1,"c":0.48},{"p":"e","s":7,"t":1.5,"c":0.58},{"p":"e","s":7,"t":3,"c":0.5},{"p":"e","s":7,"t":8,"c":0.34},{"p":"e","s":7,"t":24,"c":0.082},{"p":"e","s":7,"t":55,"c":0.0045},
{"p":"e","s":8,"t":0.05,"c":0.0001},{"p":"e","s":8,"t":0.3,"c":0.08},{"p":"e","s":8,"t":1,"c":0.35},{"p":"e","s":8,"t":1.5,"c":0.5},{"p":"e","s":8,"t":3,"c":0.48},{"p":"e","s":8,"t":8,"c":0.32},{"p":"e","s":8,"t":24,"c":0.074},{"p":"e","s":8,"t":55,"c":0.0038},
{"p":"e","s":9,"t":0.05,"c":0.0001},{"p":"e","s":9,"t":0.3,"c":0.18},{"p":"e","s":9,"t":1,"c":0.5},{"p":"e","s":9,"t":1.5,"c":0.62},{"p":"e","s":9,"t":3,"c":0.53},{"p":"e","s":9,"t":8,"c":0.3},{"p":"e","s":9,"t":24,"c":0.065},{"p":"e","s":9,"t":55,"c":0.0032},
{"p":"e","s":10,"t":0.05,"c":0.0001},{"p":"e","s":10,"t":0.3,"c":0.05},{"p":"e","s":10,"t":1,"c":0.3},{"p":"e","s":10,"t":1.5,"c":0.45},{"p":"e","s":10,"t":3,"c":0.45},{"p":"e","s":10,"t":8,"c":0.29},{"p":"e","s":10,"t":24,"c":0.058},{"p":"e","s":10,"t":55,"c":0.0026},
{"p":"e","s":11,"t":0.05,"c":0.0001},{"p":"e","s":11,"t":0.3,"c":0.22},{"p":"e","s":11,"t":1,"c":0.52},{"p":"e","s":11,"t":1.5,"c":0.66},{"p":"e","s":11,"t":3,"c":0.56},{"p":"e","s":11,"t":8,"c":0.41},{"p":"e","s":11,"t":24,"c":0.115},{"p":"e","s":11,"t":55,"c":0.0075},
{"p":"e","s":12,"t":0.05,"c":0.0001},{"p":"e","s":12,"t":0.3,"c":0.14},{"p":"e","s":12,"t":1,"c":0.46},{"p":"e","s":12,"t":1.5,"c":0.57},{"p":"e","s":12,"t":3,"c":0.51},{"p":"e","s":12,"t":8,"c":0.37},{"p":"e","s":12,"t":24,"c":0.095},{"p":"e","s":12,"t":55,"c":0.0055},
{"p":"e","s":13,"t":0.05,"c":0.0001},{"p":"e","s":13,"t":0.3,"c":0.26},{"p":"e","s":13,"t":1,"c":0.58},{"p":"e","s":13,"t":1.5,"c":0.75},{"p":"e","s":13,"t":3,"c":0.6},{"p":"e","s":13,"t":8,"c":0.44},{"p":"e","s":13,"t":24,"c":0.125},{"p":"e","s":13,"t":55,"c":0.0085},
{"p":"e","s":14,"t":0.05,"c":0.0001},{"p":"e","s":14,"t":0.3,"c":0.1},{"p":"e","s":14,"t":1,"c":0.42},{"p":"e","s":14,"t":1.5,"c":0.53},{"p":"e","s":14,"t":3,"c":0.49},{"p":"e","s":14,"t":8,"c":0.35},{"p":"e","s":14,"t":24,"c":0.085},{"p":"e","s":14,"t":55,"c":0.0048},
{"p":"e","s":15,"t":0.05,"c":0.0001},{"p":"e","s":15,"t":0.3,"c":0.16},{"p":"e","s":15,"t":1,"c":0.47},{"p":"e","s":15,"t":1.5,"c":0.6},{"p":"e","s":15,"t":3,"c":0.54},{"p":"e","s":15,"t":8,"c":0.39},{"p":"e","s":15,"t":24,"c":0.105},{"p":"e","s":15,"t":55,"c":0.0065},
{"p":"e","s":16,"t":0.05,"c":0.0001},{"p":"e","s":16,"t":0.3,"c":0.2},{"p":"e","s":16,"t":1,"c":0.5},{"p":"e","s":16,"t":1.5,"c":0.65},{"p":"e","s":16,"t":3,"c":0.55},{"p":"e","s":16,"t":8,"c":0.44},{"p":"e","s":16,"t":24,"c":0.13},{"p":"e","s":16,"t":40,"c":0.045},{"p":"e","s":16,"t":55,"c":0.032}
],
"obs":[
{"p":"a","t":1.5,"c":6.1},{"p":"a","t":2.5,"c":4.3},{"p":"a","t":3,"c":3.9},{"p":"a","t":3.5,"c":3.4},{"p":"a","t":4.5,"c":2.6},{"p":"a","t":5.5,"c":2.1},{"p":"a","t":6.5,"c":1.7},{"p":"a","t":7.5,"c":1.42},{"p":"a","t":24,"c":0.205},{"p":"a","t":31.5,"c":0.126},{"p":"a","t":48,"c":0.049},{"p":"a","t":55,"c":0.036},
{"p":"b","t":1.2,"c":0.127},{"p":"b","t":2,"c":0.122},{"p":"b","t":2.5,"c":0.113},{"p":"b","t":3,"c":0.105},{"p":"b","t":3.5,"c":0.092},{"p":"b","t":4.5,"c":0.072},{"p":"b","t":5.5,"c":0.053},{"p":"b","t":6.5,"c":0.043},{"p":"b","t":7.5,"c":0.044},{"p":"b","t":24,"c":0.0194},{"p":"b","t":31.5,"c":0.0153},{"p":"b","t":48,"c":0.0089},{"p":"b","t":55,"c":0.0075},
{"p":"c","t":1.35,"c":0.155},{"p":"c","t":2.4,"c":0.2},{"p":"c","t":2.9,"c":0.2},{"p":"c","t":3.4,"c":0.186},{"p":"c","t":4.3,"c":0.158},{"p":"c","t":5.3,"c":0.13},{"p":"c","t":6.4,"c":0.11},{"p":"c","t":7.4,"c":0.096},{"p":"c","t":24,"c":0.041},{"p":"c","t":31.5,"c":0.025},{"p":"c","t":48,"c":0.016},{"p":"c","t":55,"c":0.0118},
{"p":"d","t":1.3,"c":0.036},{"p":"d","t":1.5,"c":0.041},{"p":"d","t":1.9,"c":0.046},{"p":"d","t":2.5,"c":0.045},{"p":"d","t":3.1,"c":0.042},{"p":"d","t":4.3,"c":0.035},{"p":"d","t":5.5,"c":0.027},{"p":"d","t":6.5,"c":0.021},{"p":"d","t":7.3,"c":0.0186},{"p":"d","t":23.7,"c":0.0034},
{"p":"e","t":1.2,"c":0.45},{"p":"e","t":1.4,"c":0.55},{"p":"e","t":1.9,"c":0.65},{"p":"e","t":2.6,"c":0.72},{"p":"e","t":3.2,"c":0.76},{"p":"e","t":4.4,"c":0.67},{"p":"e","t":5.5,"c":0.58},{"p":"e","t":6.5,"c":0.51},{"p":"e","t":7.4,"c":0.45},{"p":"e","t":24,"c":0.089},{"p":"e","t":31.5,"c":0.049}
]
},
"spacing":18,
"vconcat":[
 {"bounds":"flush","spacing":5,"hconcat":[
  {"width":1,"height":1,"view":{"stroke":null},"data":{"values":[{"k":1}]},"mark":{"type":"point","opacity":0}},
  {"bounds":"flush","spacing":87,"hconcat":[
   {"width":271,"height":216,"layer":[
    {"data":{"name":"sim"},"transform":[{"filter":"datum.p=='a'"}],"mark":{"type":"line","clip":true,"color":"#0000ff","strokeWidth":0.9,"opacity":0.65},
     "encoding":{"x":{"field":"t","type":"quantitative","scale":{"domain":[0,55],"nice":false,"zero":false},"axis":{"values":[0,10,20,30,40,50],"title":null}},
      "y":{"field":"c","type":"quantitative","scale":{"type":"log","domain":[0.001,10],"nice":false},"axis":{"values":[0.001,0.01,0.1,1,10],"labelExpr":"datum.value>=9?'10¹':datum.value>=0.9?'10⁰':datum.value>=0.09?'10⁻¹':datum.value>=0.009?'10⁻²':'10⁻³'","title":"a","titleX":-58,"titleY":15}},
      "detail":{"field":"s"}}},
    {"data":{"name":"obs"},"transform":[{"filter":"datum.p=='a'"}],"mark":{"type":"circle","size":85,"color":"#f97b22","stroke":"#e0621a","strokeWidth":0.8,"opacity":1},
     "encoding":{"x":{"field":"t","type":"quantitative"},"y":{"field":"c","type":"quantitative"}}}
   ]},
   {"width":272,"height":216,"layer":[
    {"data":{"name":"sim"},"transform":[{"filter":"datum.p=='b'"}],"mark":{"type":"line","clip":true,"color":"#0000ff","strokeWidth":0.9,"opacity":0.65},
     "encoding":{"x":{"field":"t","type":"quantitative","scale":{"domain":[0,55],"nice":false,"zero":false},"axis":{"values":[0,10,20,30,40,50],"title":null}},
      "y":{"field":"c","type":"quantitative","scale":{"type":"log","domain":[0.001,10],"nice":false},"axis":{"values":[0.001,0.01,0.1,1,10],"labelExpr":"datum.value>=9?'10¹':datum.value>=0.9?'10⁰':datum.value>=0.09?'10⁻¹':datum.value>=0.009?'10⁻²':'10⁻³'","title":"b","titleX":-56,"titleY":15}},
      "detail":{"field":"s"}}},
    {"data":{"name":"obs"},"transform":[{"filter":"datum.p=='b'"}],"mark":{"type":"circle","size":85,"color":"#f97b22","stroke":"#e0621a","strokeWidth":0.8,"opacity":1},
     "encoding":{"x":{"field":"t","type":"quantitative"},"y":{"field":"c","type":"quantitative"}}}
   ]}
  ]}
 ]},
 {"bounds":"flush","spacing":5,"hconcat":[
  {"width":1,"height":1,"view":{"stroke":null},"data":{"values":[{"k":1}]},"mark":{"type":"point","opacity":0}},
  {"bounds":"flush","spacing":87,"hconcat":[
   {"width":271,"height":213,
    "title":{"text":"Blood Concentration [μM]","orient":"left","anchor":"middle","frame":"group","font":"Liberation Sans","fontSize":20,"fontWeight":"normal","color":"#000000","offset":26},
    "layer":[
    {"data":{"name":"sim"},"transform":[{"filter":"datum.p=='c'"}],"mark":{"type":"line","clip":true,"color":"#0000ff","strokeWidth":0.9,"opacity":0.65},
     "encoding":{"x":{"field":"t","type":"quantitative","scale":{"domain":[0,55],"nice":false,"zero":false},"axis":{"values":[0,10,20,30,40,50],"title":null}},
      "y":{"field":"c","type":"quantitative","scale":{"type":"log","domain":[0.001,10],"nice":false},"axis":{"values":[0.001,0.01,0.1,1,10],"labelExpr":"datum.value>=9?'10¹':datum.value>=0.9?'10⁰':datum.value>=0.09?'10⁻¹':datum.value>=0.009?'10⁻²':'10⁻³'","title":"c","titleX":-57,"titleY":6}},
      "detail":{"field":"s"}}},
    {"data":{"name":"obs"},"transform":[{"filter":"datum.p=='c'"}],"mark":{"type":"circle","size":85,"color":"#f97b22","stroke":"#e0621a","strokeWidth":0.8,"opacity":1},
     "encoding":{"x":{"field":"t","type":"quantitative"},"y":{"field":"c","type":"quantitative"}}}
   ]},
   {"width":272,"height":213,"layer":[
    {"data":{"name":"sim"},"transform":[{"filter":"datum.p=='d'"}],"mark":{"type":"line","clip":true,"color":"#0000ff","strokeWidth":0.9,"opacity":0.65},
     "encoding":{"x":{"field":"t","type":"quantitative","scale":{"domain":[0,55],"nice":false,"zero":false},"axis":{"values":[0,10,20,30,40,50],"title":null}},
      "y":{"field":"c","type":"quantitative","scale":{"type":"log","domain":[0.001,10],"nice":false},"axis":{"values":[0.001,0.01,0.1,1,10],"labelExpr":"datum.value>=9?'10¹':datum.value>=0.9?'10⁰':datum.value>=0.09?'10⁻¹':datum.value>=0.009?'10⁻²':'10⁻³'","title":"d","titleX":-55,"titleY":6}},
      "detail":{"field":"s"}}},
    {"data":{"name":"obs"},"transform":[{"filter":"datum.p=='d'"}],"mark":{"type":"circle","size":85,"color":"#f97b22","stroke":"#e0621a","strokeWidth":0.8,"opacity":1},
     "encoding":{"x":{"field":"t","type":"quantitative"},"y":{"field":"c","type":"quantitative"}}}
   ]}
  ]}
 ]},
 {"width":283,"height":190,"layer":[
  {"data":{"name":"sim"},"transform":[{"filter":"datum.p=='e'"}],"mark":{"type":"line","clip":true,"color":"#0000ff","strokeWidth":0.9,"opacity":0.65},
   "encoding":{"x":{"field":"t","type":"quantitative","scale":{"domain":[0,55],"nice":false,"zero":false},"axis":{"values":[0,10,20,30,40,50],"title":"Time [h]","titleX":322,"titleY":29,"titleAlign":"center","titleBaseline":"alphabetic"}},
    "y":{"field":"c","type":"quantitative","scale":{"type":"log","domain":[0.001,10],"nice":false},"axis":{"values":[0.001,0.01,0.1,1,10],"labelExpr":"datum.value>=9?'10¹':datum.value>=0.9?'10⁰':datum.value>=0.09?'10⁻¹':datum.value>=0.009?'10⁻²':'10⁻³'","title":"e","titleX":-52,"titleY":13}},
    "detail":{"field":"s"}}},
  {"data":{"name":"obs"},"transform":[{"filter":"datum.p=='e'"}],"mark":{"type":"circle","size":85,"color":"#f97b22","stroke":"#e0621a","strokeWidth":0.8,"opacity":1},
   "encoding":{"x":{"field":"t","type":"quantitative"},"y":{"field":"c","type":"quantitative"}}}
 ]}
]
}
